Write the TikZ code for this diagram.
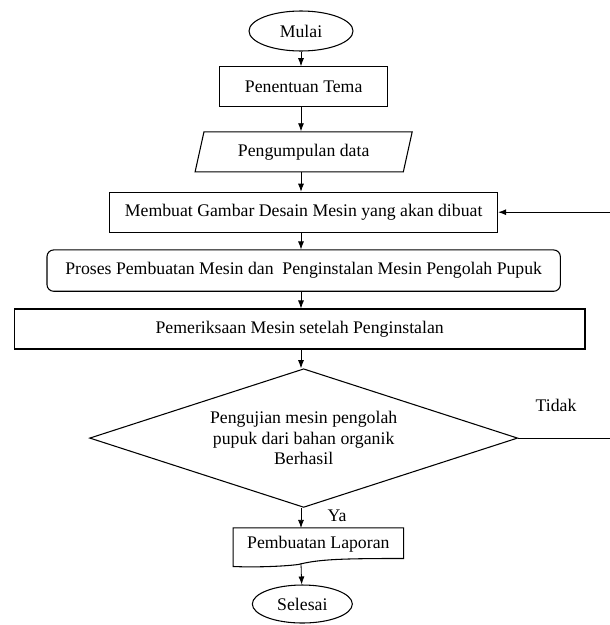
\documentclass[tikz,border=0pt]{standalone}
\usepackage{fontspec}
\setmainfont{Liberation Serif}
\usepackage{tikz}
\usetikzlibrary{arrows.meta, positioning, shapes.geometric, calc}

\begin{document}
\begin{tikzpicture}[
    x=0.75pt, y=-0.75pt,
    node distance=15pt,
    every node/.style={font=\fontsize{13.3}{15.5}\selectfont},
    terminal/.style={draw, ellipse, line width=0.8pt, inner sep=0pt},
    box/.style={draw, line width=0.8pt, minimum height=30pt, align=center},
    proc/.style={draw, rounded corners=5pt, line width=0.8pt, minimum height=31pt, align=center},
    io/.style={draw, trapezium, trapezium left angle=76, trapezium right angle=104,
               trapezium stretches=true, line width=0.8pt, minimum height=30pt},
    decision/.style={draw, diamond, aspect=3.1, line width=0.8pt, inner sep=0pt, align=center,
                     minimum width=321pt, minimum height=104pt},
    arrow/.style={-{Latex[length=6pt, width=4.5pt]}, line width=0.6pt}
]
    \useasboundingbox (0,0) rectangle (610,625);
    \clip (0,0) rectangle (610,625);

    \node[terminal, minimum width=78pt, minimum height=30pt] (mulai) at (301,31) {Mulai};
    \node[box, minimum width=126pt, below=11pt of mulai, xshift=2pt] (tema) {Penentuan Tema};
    \node[io, minimum width=163pt, below=18pt of tema] (data) {Pengumpulan data};
    \node[box, minimum width=291pt, below=14.5pt of data] (desain) {Membuat Gambar Desain Mesin yang akan dibuat};
    \node[proc, minimum width=385pt, below=12.5pt of desain] (proses) {Proses Pembuatan Mesin dan\ \ Penginstalan Mesin Pengolah Pupuk};
    \node[box, minimum width=428pt, below=12.5pt of proses, xshift=-3pt] (periksa) {Pemeriksaan Mesin setelah Penginstalan};
    \node[decision, below=14pt of periksa, xshift=3pt] (uji) {Pengujian mesin pengolah\\pupuk dari bahan organik\\Berhasil};
    \node[minimum width=127.5pt, minimum height=24pt, below=15pt of uji, xshift=11pt] (laporan) {Pembuatan Laporan};
    \node[terminal, minimum width=75pt, minimum height=28.5pt, below=18pt of laporan, xshift=-12pt] (selesai) {Selesai};

    % document shape for the report
    \draw[line width=0.8pt] (laporan.south west) -- (laporan.north west) -- (laporan.north east)
        -- ($(laporan.south east)+(0,-2)$)
        .. controls ($(laporan.south)+(20,-2)$) and ($(laporan.south)+(0,-1)$) .. ($(laporan.south)+(-20,4)$)
        .. controls ($(laporan.south west)+(50,6)$) and ($(laporan.south west)+(20,7)$) .. ($(laporan.south west)+(0,6)$)
        -- (laporan.south west);

    \node (tidak) at (556,405) {Tidak};
    \node (ya) at (337,516) {Ya};

    \coordinate (kanan) at (612,437);

    \draw[arrow] (mulai) -- (mulai |- tema.north);
    \draw[arrow] (tema.south -| mulai) -- (mulai |- data.north);
    \draw[arrow] (data.south -| mulai) -- (mulai |- desain.north);
    \draw[arrow] (desain.south -| mulai) -- (mulai |- proses.north);
    \draw[arrow] (proses.south -| mulai) -- (mulai |- periksa.north);
    \draw[arrow] (periksa.south -| mulai) -- (mulai |- uji.north);
    \draw[arrow] (uji.south -| mulai) -- (mulai |- laporan.north);
    \draw[arrow] ($(laporan.south -| mulai)+(0,3)$) -- (selesai);
    \draw[arrow] (uji.east) -- (uji.east -| kanan) |- (desain.east);
\end{tikzpicture}
\end{document}
